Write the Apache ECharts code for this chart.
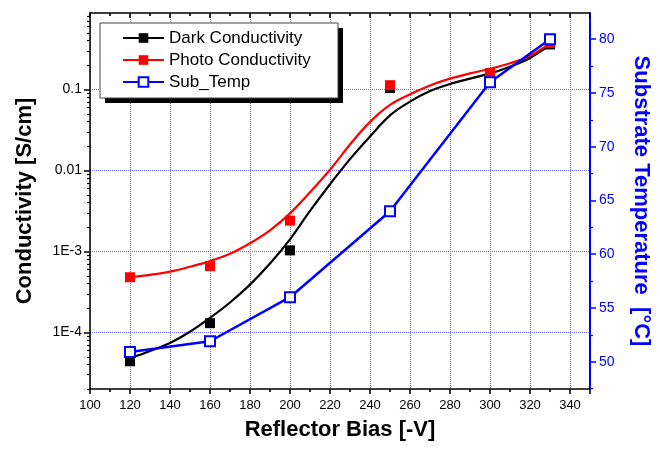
<!DOCTYPE html>
<html>
<head>
<meta charset="utf-8">
<script src="https://cdn.jsdelivr.net/npm/echarts@6/dist/echarts.min.js"></script>
<style>html,body{margin:0;padding:0;background:#fff}#c{width:660px;height:450px}</style>
</head>
<body>
<div id="c"></div>
<script>
// measured points
var biasPts = [120, 160, 200, 250, 300, 330];
var darkPts = [4.4e-5, 1.3e-4, 1.03e-3, 0.104, 0.155, 0.36];
var photoPts = [4.8e-4, 6.6e-4, 2.4e-3, 0.113, 0.16, 0.375];
var tempPts = [50.9, 51.9, 56.0, 64.0, 76.0, 80.0];
// fitted curves
var fitX = [120,130,140,150,160,170,180,190,200,210,220,230,240,250,260,270,280,290,300,310,320,330];
var darkFit = [4.79e-5,5.89e-5,7.41e-5,1.02e-4,1.51e-4,2.34e-4,3.89e-4,7.08e-4,1.41e-3,3.16e-3,6.76e-3,1.38e-2,2.63e-2,4.79e-2,7.08e-2,9.55e-2,0.117,0.136,0.158,0.191,0.245,0.355];
var photoFit = [4.79e-4,5.13e-4,5.62e-4,6.46e-4,7.59e-4,9.33e-4,1.26e-3,1.82e-3,2.95e-3,5.37e-3,1.02e-2,2.09e-2,3.98e-2,6.46e-2,8.71e-2,0.112,0.136,0.158,0.180,0.211,0.260,0.372];
// ticks
var xTickLabels = [100,120,140,160,180,200,220,240,260,280,300,320,340];
var logMajor = [1e-4, 1e-3, 0.01, 0.1];
var logLabels = ['1E-4', '1E-3', '0.01', '0.1'];
var logMinor = [2e-5,3e-5,4e-5,5e-5,6e-5,7e-5,8e-5,9e-5,2e-4,3e-4,4e-4,5e-4,6e-4,7e-4,8e-4,9e-4,2e-3,3e-3,4e-3,5e-3,6e-3,7e-3,8e-3,9e-3,0.02,0.03,0.04,0.05,0.06,0.07,0.08,0.09,0.2,0.3,0.4,0.5,0.6,0.7,0.8];
var tempMajor = [50,55,60,65,70,75,80];
var tempMinor = [47.5,52.5,57.5,62.5,67.5,72.5,77.5,82.5];

var LMIN = 2e-5, LMAX = 0.88, TMIN = 47.46, TMAX = 82.44;
var FONT = 'Liberation Sans';
var BLUE = '#0000ff';

function pairs(xs, ys) { return xs.map(function (x, i) { return [x, ys[i]]; }); }

var chart = echarts.init(document.getElementById('c'));
chart.setOption({
  animation: false,
  backgroundColor: '#fff',
  textStyle: { fontFamily: FONT },
  grid: { left: 90, right: 64, top: 13, bottom: 61 },
  graphic: [
    { type: 'rect', z: 50, shape: { x: 105, y: 28, width: 238, height: 75 }, style: { fill: '#000' } },
    { type: 'rect', z: 51, shape: { x: 100, y: 23, width: 238, height: 75 }, style: { fill: '#fff', stroke: '#444', lineWidth: 1 } }
  ],
  legend: {
    data: ['Dark Conductivity', 'Photo Conductivity', 'Sub_Temp'],
    orient: 'vertical',
    left: 100, top: 23, z: 60,
    padding: [6, 22, 7, 22],
    itemWidth: 41, itemHeight: 12, itemGap: 4,
    textStyle: { fontFamily: FONT, fontSize: 17, color: '#000', lineHeight: 18 }
  },
  xAxis: [{
    type: 'value', position: 'bottom', min: 100, max: 350, interval: 20,
    axisLine: { lineStyle: { color: '#000', width: 1.5 } },
    axisTick: { inside: false, length: 5, lineStyle: { color: '#000', width: 1.5 } },
    minorTick: { show: true, splitNumber: 2, length: 3, lineStyle: { color: '#000', width: 1.5 } },
    axisLabel: { customValues: xTickLabels, fontFamily: FONT, fontSize: 13, color: '#000', margin: 10 },
    splitLine: { show: true, lineStyle: { color: '#6f6fff', type: 'dotted', width: 1 } },
    name: 'Reflector Bias [-V]', nameLocation: 'middle', nameGap: 30,
    nameTextStyle: { fontFamily: FONT, fontSize: 22, fontWeight: 'bold', color: '#000' }
  }, {
    type: 'value', position: 'top', min: 100, max: 350, interval: 20,
    axisLine: { lineStyle: { color: '#000', width: 1.5 } },
    axisTick: { inside: true, length: 5, lineStyle: { color: '#000', width: 1.5 } },
    minorTick: { show: true, splitNumber: 2, length: 3, lineStyle: { color: '#000', width: 1.5 } },
    axisLabel: { show: false }, splitLine: { show: false }
  }],
  yAxis: [{
    type: 'log', logBase: 10, position: 'left', min: LMIN, max: LMAX,
    axisLine: { show: true, lineStyle: { color: '#000', width: 1.5 } },
    axisTick: { show: true, inside: false, length: 6, customValues: logMajor, lineStyle: { color: '#000', width: 1.5 } },
    axisLabel: {
      customValues: logMajor, fontFamily: FONT, fontSize: 14, color: '#000', margin: 8,
      formatter: function (v) {
        var i = logMajor.findIndex(function (m) { return Math.abs(Math.log10(m) - Math.log10(v)) < 1e-6; });
        return i >= 0 ? logLabels[i] : '';
      }
    },
    splitLine: { show: true, lineStyle: { color: '#6f6fff', type: 'dotted', width: 1 } },
    name: 'Conductivity [S/cm]', nameLocation: 'middle', nameGap: 54,
    nameTextStyle: { fontFamily: FONT, fontSize: 22, fontWeight: 'bold', color: '#000' }
  }, {
    type: 'value', position: 'left', min: Math.log10(LMIN), max: Math.log10(LMAX),
    axisLine: { show: false },
    axisTick: { show: true, inside: false, length: 3, customValues: logMinor.map(function (v) { return Math.log10(v); }), lineStyle: { color: '#000', width: 1.2 } },
    axisLabel: { show: false }, splitLine: { show: false }
  }, {
    type: 'value', position: 'right', min: TMIN, max: TMAX,
    axisLine: { show: true, lineStyle: { color: BLUE, width: 2 } },
    axisTick: { show: true, inside: false, length: 6, customValues: tempMajor, lineStyle: { color: BLUE, width: 1.5 } },
    axisLabel: { customValues: tempMajor, fontFamily: FONT, fontSize: 14, color: BLUE, margin: 9 },
    splitLine: { show: false },
    name: 'Substrate Temperature  [°C]', nameLocation: 'middle', nameGap: 40, nameRotate: -90,
    nameTextStyle: { fontFamily: FONT, fontSize: 22, fontWeight: 'bold', color: BLUE }
  }, {
    type: 'value', position: 'right', min: TMIN, max: TMAX,
    axisLine: { show: false },
    axisTick: { show: true, inside: false, length: 3, customValues: tempMinor, lineStyle: { color: BLUE, width: 1.2 } },
    axisLabel: { show: false }, splitLine: { show: false }
  }],
  series: [{
    name: 'Dark Conductivity', type: 'line', yAxisIndex: 0, xAxisIndex: 0,
    data: pairs(fitX, darkFit), smooth: 0.35, symbol: 'rect', symbolSize: 10, showSymbol: false,
    color: '#000', itemStyle: { color: '#000' }, lineStyle: { color: '#000', width: 2.2 }, z: 2
  }, {
    name: 'Photo Conductivity', type: 'line', yAxisIndex: 0, xAxisIndex: 0,
    data: pairs(fitX, photoFit), smooth: 0.35, symbol: 'rect', symbolSize: 10, showSymbol: false,
    color: '#ff0000', itemStyle: { color: '#ff0000' }, lineStyle: { color: '#ff0000', width: 2.2 }, z: 2
  }, {
    name: 'Dark Conductivity', type: 'scatter', yAxisIndex: 0, xAxisIndex: 0,
    data: pairs(biasPts, darkPts), symbol: 'rect', symbolSize: 10,
    itemStyle: { color: '#000', opacity: 1 }, z: 3
  }, {
    name: 'Photo Conductivity', type: 'scatter', yAxisIndex: 0, xAxisIndex: 0,
    data: pairs(biasPts, photoPts), symbol: 'rect', symbolSize: 10,
    itemStyle: { color: '#ff0000', opacity: 1 }, z: 3
  }, {
    name: 'Sub_Temp', type: 'line', yAxisIndex: 2, xAxisIndex: 0,
    data: pairs(biasPts, tempPts), symbol: 'emptyRect', symbolSize: 10, showSymbol: true,
    color: BLUE, itemStyle: { color: BLUE, borderWidth: 1.5 }, lineStyle: { color: BLUE, width: 2.5 }, z: 4
  }]
});
</script>
</body>
</html>
